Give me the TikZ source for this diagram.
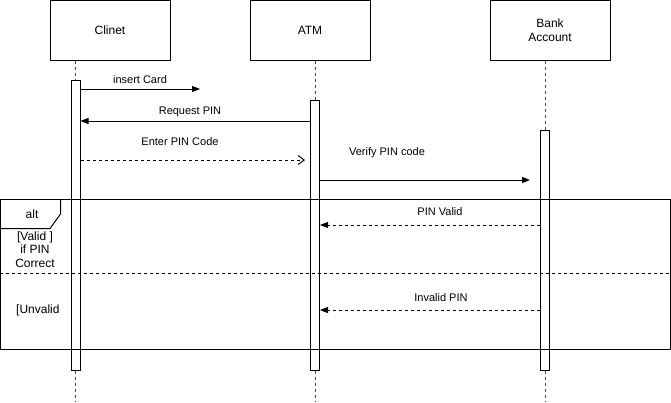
\documentclass[tikz,border=0pt]{standalone}
\usepackage{fontspec}
\setmainfont{Liberation Sans}
\usetikzlibrary{arrows.meta}
\begin{document}
\begin{tikzpicture}[x=1pt,y=-1pt,
  actor/.style={draw,line width=1pt,minimum width=120pt,minimum height=60pt,inner sep=0pt,font=\fontsize{12}{14}\selectfont,align=center},
  actbar/.style={draw,line width=1pt,fill=white,minimum width=9pt,inner sep=0pt},
  life/.style={draw=black!70,line width=1pt,dash pattern=on 3pt off 3pt},
  msg/.style={line width=1pt,-{Triangle[length=8pt,width=6pt]}},
  reply/.style={line width=1pt,dash pattern=on 3pt off 3pt,-{Triangle[length=8pt,width=6pt]}},
  ret/.style={line width=1pt,dash pattern=on 3pt off 3pt,-{Straight Barb[length=6pt,width=9pt]}},
  lbl/.style={font=\fontsize{11}{13}\selectfont,inner sep=0pt},
  frm/.style={line width=1pt},
  ftxt/.style={font=\fontsize{12}{13.5}\selectfont,inner sep=0pt,align=center}]
\useasboundingbox (0,0) rectangle (671,402);
% actors
\node[actor] (c) at (110,30) {Clinet};
\node[actor] (a) at (310,30) {ATM};
\node[actor] (b) at (550,30) {Bank\\Account};
% lifeline ends
\coordinate (cend) at (75.5,402);
\coordinate (aend) at (315,402);
\coordinate (bend) at (545,402);
% activations
\node[actbar,minimum height=290pt] (ca) at (75.5,225) {};
\node[actbar,minimum height=270pt] (aa) at (315,235) {};
\node[actbar,minimum height=240pt] (ba) at (545,250) {};
% lifelines
\draw[life] (ca.north |- c.south) -- (ca.north);
\draw[life] (aa.north |- a.south) -- (aa.north);
\draw[life] (ba.north |- b.south) -- (ba.north);
\draw[life] (ca.south) -- (cend);
\draw[life] (aa.south) -- (aend);
\draw[life] (ba.south) -- (bend);
% frame
\draw[frm] (0.5,199.5) rectangle (670.5,349.5);
\draw[frm] (0.5,228.5) -- (50,228.5) -- (60.5,214) -- (60.5,199.5);
\draw[line width=1pt,dash pattern=on 3pt off 3pt] (0,273.5) -- (671,273.5);
\node[ftxt] (alt) at (32,214) {alt};
\node[ftxt] (g1) at (35,249.5) {[Valid ]\\if PIN\\Correct};
\node[ftxt,anchor=west] (g2) at (16,310) {[Unvalid};
% message endpoints
\coordinate (m1e) at (200,89);
\coordinate (m3e) at (305,160);
\coordinate (m4e) at (530,180);
% messages
\draw[msg] (ca.east |- 0,89) -- (m1e);
\node[lbl] (l1) at (140,80) {insert Card};
\draw[msg] (aa.west |- 0,121) -- (ca.east |- 0,121);
\node[lbl] (l2) at (190,112) {Request PIN};
\draw[ret] (ca.east |- 0,160) -- (m3e);
\node[lbl] (l3) at (180,142) {Enter PIN Code};
\draw[msg] (aa.east |- 0,180) -- (m4e);
\node[lbl] (l4) at (387,153) {Verify PIN code};
\draw[reply] (ba.west |- 0,225) -- (aa.east |- 0,225);
\node[lbl] (l5) at (440,212) {PIN Valid};
\draw[reply] (ba.west |- 0,310) -- (aa.east |- 0,310);
\node[lbl] (l6) at (441,298) {Invalid PIN};
\end{tikzpicture}
\end{document}
